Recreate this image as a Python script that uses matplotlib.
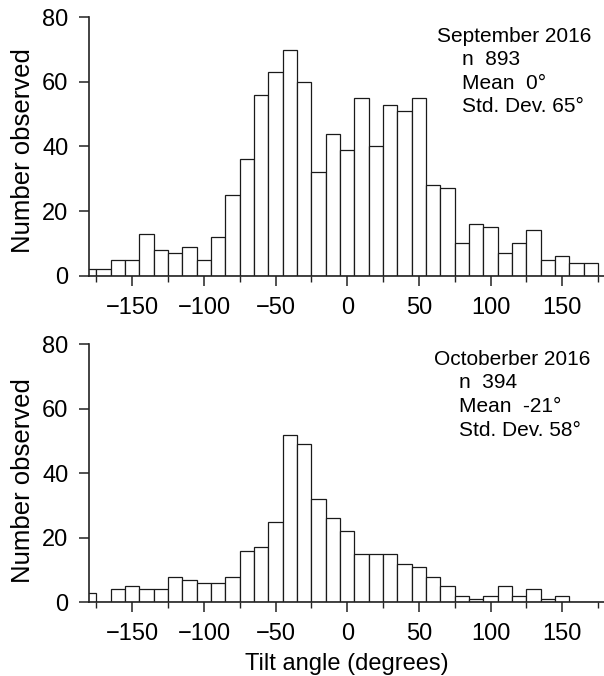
import matplotlib
matplotlib.use("Agg")
import matplotlib.pyplot as plt

plt.rcParams['font.family'] = ['Liberation Sans', 'DejaVu Sans']

# Bin centers (degrees), 10-degree bins
bin_centers = list(range(-180, 180, 10))
bin_width = 10

sep_counts = [2, 2, 5, 5, 13, 8, 7, 9, 5, 12, 25, 36, 56, 63, 70, 60, 32, 44,
              39, 55, 40, 53, 51, 55, 28, 27, 10, 16, 15, 7, 10, 14, 5, 6, 4, 4]
oct_counts = [3, 0, 4, 5, 4, 4, 8, 7, 6, 6, 8, 16, 17, 25, 52, 49, 32, 26,
              22, 15, 15, 15, 12, 11, 8, 5, 2, 1, 2, 5, 2, 4, 1, 2, 0, 0]

sep_lines = ["September 2016", "n  893", "Mean  0°", "Std. Dev. 65°"]
oct_lines = ["Octoberber 2016", "n  394", "Mean  -21°", "Std. Dev. 58°"]

y_ticks = [0, 20, 40, 60, 80]
x_ticks = [-150, -100, -50, 0, 50, 100, 150]
x_minor_ticks = [-175, -125, -75, -25, 25, 75, 125, 175]

W, H = 604, 676
fig = plt.figure(figsize=(W / 100, H / 100), dpi=100)

def px_axes(left, top, right, bottom):
    return [left / W, 1 - bottom / H, (right - left) / W, (bottom - top) / H]

ax1 = fig.add_axes(px_axes(89.3, 17.3, 605.3, 275.7))
ax2 = fig.add_axes(px_axes(89.3, 344.3, 605.3, 602.3))

edge = '#1a1a1a'
for ax, counts, lines, (tx, ty), ly in [
    (ax1, sep_counts, sep_lines, (436.7, 41.7), 0.485),
    (ax2, oct_counts, oct_lines, (434.3, 365.0), 0.473),
]:
    ax.bar(bin_centers, counts, width=bin_width, align='center',
           facecolor='white', edgecolor=edge, linewidth=0.9, zorder=2)
    ax.set_xlim(-180, 180)
    ax.set_ylim(0, 80)
    for s in ['top', 'right']:
        ax.spines[s].set_visible(False)
    for s in ['left', 'bottom']:
        ax.spines[s].set_linewidth(1.2)
        ax.spines[s].set_color('#222222')
        ax.spines[s].set_zorder(3)
    ax.set_yticks(y_ticks)
    ax.set_xticks(x_ticks)
    ax.set_xticks(x_minor_ticks, minor=True)
    ax.tick_params(axis='both', which='major', direction='out', length=7,
                   width=1.1, labelsize=17, color='#222222')
    ax.tick_params(axis='x', which='major', pad=8)
    ax.tick_params(axis='y', which='major', pad=8)
    ax.tick_params(axis='x', which='minor', direction='out', length=4,
                   width=1.0, color='#222222')
    ax.set_ylabel("Number observed", fontsize=18.5, labelpad=5)
    ax.yaxis.label.set_y(ly)

    x0 = tx
    fig.text(x0 / W, 1 - ty / H, lines[0], fontsize=15, ha='left', va='baseline')
    offs = [23.5, 47.0, 70.5]
    for ln, o in zip(lines[1:], offs):
        fig.text((x0 + 25) / W, 1 - (ty + o) / H, ln, fontsize=15,
                 ha='left', va='baseline')

ax2.set_xlabel("Tilt angle (degrees)", fontsize=17, labelpad=6)

fig.savefig("out.png", dpi=100)
